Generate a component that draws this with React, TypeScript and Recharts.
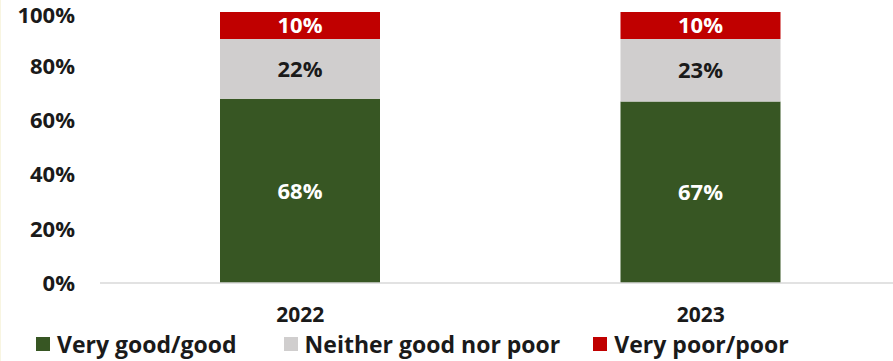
import React from 'react';
import { BarChart, Bar, XAxis, YAxis, Legend, LabelList } from 'recharts';

const categories = ['2022', '2023'];
const veryGoodGood = [68, 67];
const neitherGoodNorPoor = [22, 23];
const veryPoorPoor = [10, 10];
const yTicks = [0, 20, 40, 60, 80, 100];

const seriesNames = ['Very good/good', 'Neither good nor poor', 'Very poor/poor'];
const seriesColors = ['#375623', '#D0CECE', '#C00000'];
const labelColors = ['#FFFFFF', '#1A1A1A', '#FFFFFF'];

const data = categories.map((c, i) => ({
  year: c,
  good: veryGoodGood[i],
  neither: neitherGoodNorPoor[i],
  poor: veryPoorPoor[i],
}));

const FONT = '"Open Sans", "Noto Sans", sans-serif';
const TEXT = '#1A1A1A';

const LegendContent = () => (
  <div style={{ display: 'flex', alignItems: 'center', fontFamily: FONT, fontWeight: 700, fontSize: 23, color: TEXT, paddingLeft: 35 }}>
    {seriesNames.map((n, i) => (
      <div key={n} style={{ display: 'flex', alignItems: 'center', marginRight: i === 0 ? 47 : 33 }}>
        <span style={{ display: 'inline-block', width: 14, height: 14, background: seriesColors[i], marginRight: 7 }} />
        <span style={{ lineHeight: '22px' }}>{n}</span>
      </div>
    ))}
  </div>
);

export default function App() {
  const keys = ['good', 'neither', 'poor'];
  return (
    <div style={{ position: 'absolute', left: 0, top: 0, width: 893, height: 361, overflow: 'hidden', background: '#fff', borderLeft: '1px solid #F8F5E1', boxSizing: 'border-box' }}>
      <BarChart width={910} height={361} data={data} margin={{ top: 12, right: 10, left: 39, bottom: 48 }}>
        <XAxis
          dataKey="year"
          height={30}
          axisLine={{ stroke: '#D9D9D9', strokeWidth: 1.5 }}
          tickLine={false}
          tickMargin={18}
          tick={{ fill: TEXT, fontSize: 21, fontWeight: 700, fontFamily: FONT }}
        />
        <YAxis
          width={60}
          domain={[0, 100]}
          ticks={yTicks}
          axisLine={false}
          tickLine={false}
          tickMargin={19}
          tickFormatter={(v: number) => `${v}%`}
          tick={{ fill: TEXT, fontSize: 22, fontWeight: 700, fontFamily: FONT }}
        />
        <Legend
          layout="horizontal"
          verticalAlign="middle"
          align="center"
          wrapperStyle={{ position: 'absolute', left: 0, top: 333, width: 893 }}
          content={<LegendContent />}
        />
        {keys.map((k, i) => (
          <Bar key={k} dataKey={k} name={seriesNames[i]} stackId="a" fill={seriesColors[i]} barSize={160} isAnimationActive={false}>
            <LabelList
              dataKey={k}
              position="center"
              formatter={(v: number) => `${v}%`}
              fill={labelColors[i]}
              style={{ fontSize: 22, fontWeight: 700, fontFamily: FONT }}
            />
          </Bar>
        ))}
      </BarChart>
    </div>
  );
}
